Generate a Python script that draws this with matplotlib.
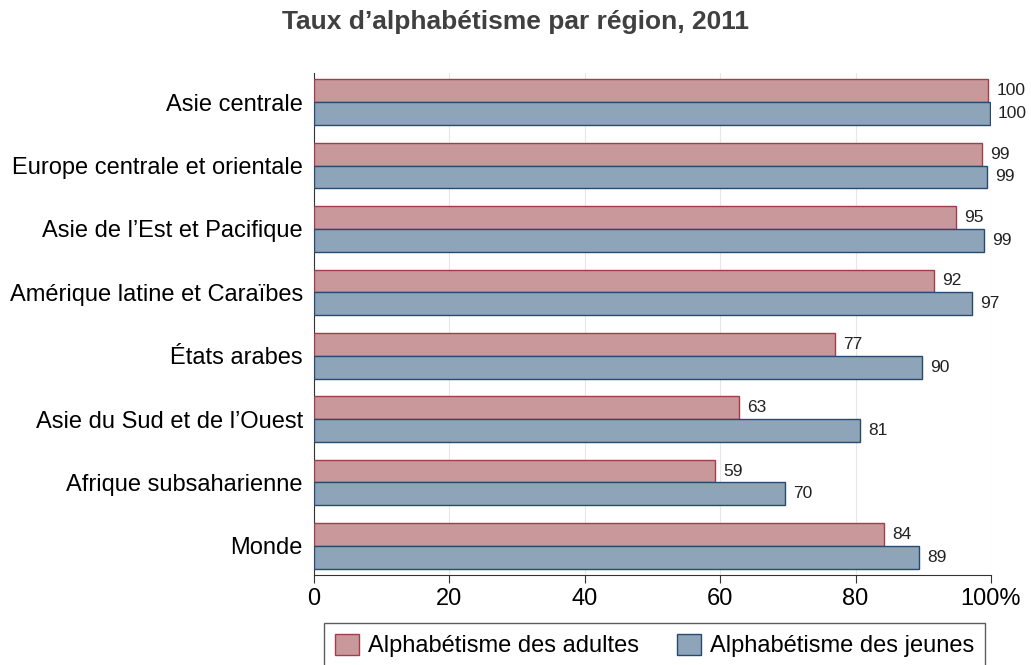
import numpy as np
import matplotlib.pyplot as plt

plt.rcParams["font.family"] = ["Liberation Sans", "DejaVu Sans"]

regions = ["Asie centrale", "Europe centrale et orientale", "Asie de l\u2019Est et Pacifique",
           "Amérique latine et Caraïbes", "États arabes", "Asie du Sud et de l\u2019Ouest",
           "Afrique subsaharienne", "Monde"]
adultes = [99.6, 98.7, 94.8, 91.6, 77.0, 62.8, 59.2, 84.2]
jeunes = [99.8, 99.4, 99.0, 97.2, 89.8, 80.6, 69.6, 89.4]

fig = plt.figure(figsize=(10.31, 6.65), dpi=100)
ax = fig.add_axes([0.3046, 0.1353, 0.6566, 0.7549])

y = np.arange(len(regions))
h = 0.36
b1 = ax.barh(y - h / 2, adultes, height=h, color="#c9989b", edgecolor="#a23d4a",
             linewidth=1, label="Alphabétisme des adultes", zorder=3)
b2 = ax.barh(y + h / 2, jeunes, height=h, color="#8ea4b9", edgecolor="#264a70",
             linewidth=1, label="Alphabétisme des jeunes", zorder=3)

for bars, vals in ((b1, adultes), (b2, jeunes)):
    for bar, v in zip(bars, vals):
        ax.text(v + 1.2, bar.get_y() + bar.get_height() / 2, f"{round(v):d}",
                va="center", ha="left", fontsize=12.5, color="#222222")

ax.set_xlim(0, 100)
ax.set_ylim(len(regions) - 0.54, -0.46)
ax.set_yticks(y)
ax.set_yticklabels(regions, fontsize=17)
ax.tick_params(axis="y", length=0, pad=8)
ax.set_xticks([0, 20, 40, 60, 80, 100])
ax.set_xticklabels(["0", "20", "40", "60", "80", "100%"], fontsize=17)
ax.tick_params(axis="x", direction="out", length=6, color="#333333")
ax.grid(axis="x", color="#e8e8e8", linewidth=0.8, zorder=0)
for s in ("top", "right"):
    ax.spines[s].set_visible(False)
ax.spines["left"].set_color("#333333")
ax.spines["bottom"].set_color("#333333")

fig.suptitle("Taux d\u2019alphabétisme par région, 2011", x=0.5, y=0.985,
             fontsize=19, fontweight="bold", color="#404040")

leg = fig.legend(loc="upper center", bbox_to_anchor=(0.635, 0.081), ncol=2,
                 fontsize=17, frameon=True, fancybox=False, edgecolor="#333333",
                 handlelength=1.0, handleheight=1.0, columnspacing=1.6,
                 handletextpad=0.4, borderpad=0.45)
leg.get_frame().set_linewidth(1)

fig.savefig("out.png", dpi=100)
